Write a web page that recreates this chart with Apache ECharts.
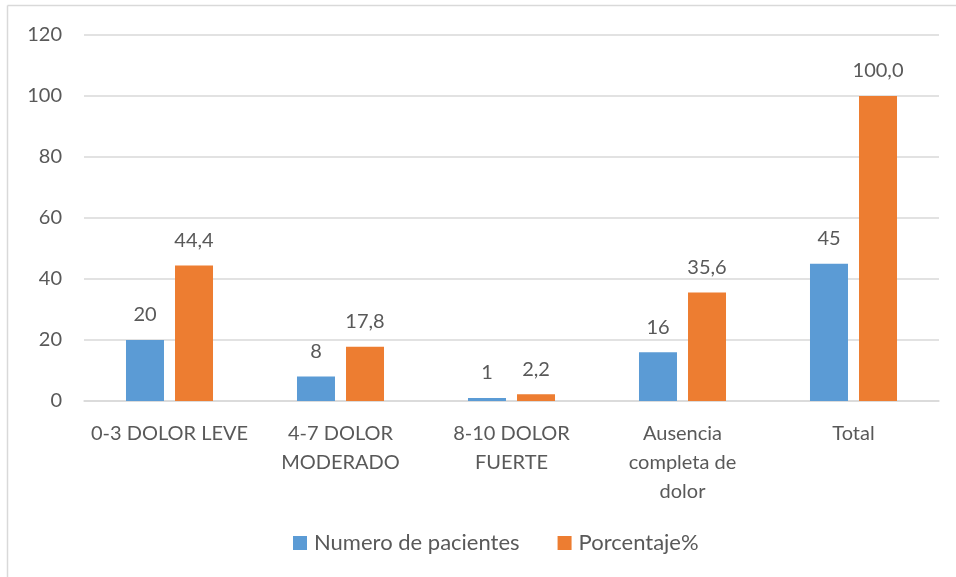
<!DOCTYPE html>
<html>
<head>
<meta charset="utf-8">
<script src="https://cdn.jsdelivr.net/npm/echarts@6/dist/echarts.min.js"></script>
<style>
  html, body { margin: 0; padding: 0; background: #fff; }
  #chart { width: 956px; height: 577px; }
</style>
</head>
<body>
<div id="chart"></div>
<script>
// Pain levels reported by patients
var categories = ['0-3 DOLOR LEVE', '4-7 DOLOR\nMODERADO', '8-10 DOLOR\nFUERTE', 'Ausencia\ncompleta de\ndolor', 'Total'];
var pacientes = [20, 8, 1, 16, 45];
var porcentaje = [44.4, 17.8, 2.2, 35.6, 100.0];
var seriesNames = ['Numero de pacientes', 'Porcentaje%'];

var FONT = 'Lato, "Open Sans", sans-serif';
var TEXT = '#595959';

var chart = echarts.init(document.getElementById('chart'));
chart.setOption({
  animation: false,
  textStyle: { fontFamily: FONT },
  graphic: [
    { type: 'line', shape: { x1: 7.5, y1: 5.5, x2: 956, y2: 5.5 }, style: { stroke: '#d9d9d9', lineWidth: 1.5 } },
    { type: 'line', shape: { x1: 7.5, y1: 5.5, x2: 7.5, y2: 577 }, style: { stroke: '#d9d9d9', lineWidth: 1.5 } }
  ],
  grid: { left: 84, right: 17, top: 35, bottom: 176, containLabel: false },
  legend: {
    bottom: 18,
    left: 288,
    itemWidth: 14,
    itemHeight: 14,
    itemGap: 38,
    icon: 'rect',
    textStyle: { color: TEXT, fontSize: 22, fontFamily: FONT, padding: [0, 0, 0, 2] },
    data: seriesNames
  },
  xAxis: {
    type: 'category',
    data: categories,
    axisLine: { lineStyle: { color: '#d9d9d9', width: 1.5 } },
    axisTick: { show: false },
    axisLabel: { color: TEXT, fontSize: 20, lineHeight: 29, margin: 18, interval: 0, fontFamily: FONT }
  },
  yAxis: {
    type: 'value',
    min: 0,
    max: 120,
    interval: 20,
    axisLine: { show: false },
    axisTick: { show: false },
    splitLine: { lineStyle: { color: '#d9d9d9', width: 1.5 } },
    axisLabel: { color: TEXT, fontSize: 20, margin: 22, fontFamily: FONT }
  },
  series: [
    {
      name: seriesNames[0],
      type: 'bar',
      data: pacientes,
      barWidth: 38,
      barGap: '29%',
      itemStyle: { color: '#5B9BD5' },
      label: { show: true, position: 'top', distance: 15, color: TEXT, fontSize: 20, fontFamily: FONT }
    },
    {
      name: seriesNames[1],
      type: 'bar',
      data: porcentaje,
      barWidth: 38,
      barGap: '29%',
      itemStyle: { color: '#ED7D31' },
      label: {
        show: true, position: 'top', distance: 15, color: TEXT, fontSize: 20, fontFamily: FONT,
        formatter: function (p) { return p.value.toFixed(1).replace('.', ','); }
      }
    }
  ]
});
</script>
</body>
</html>
